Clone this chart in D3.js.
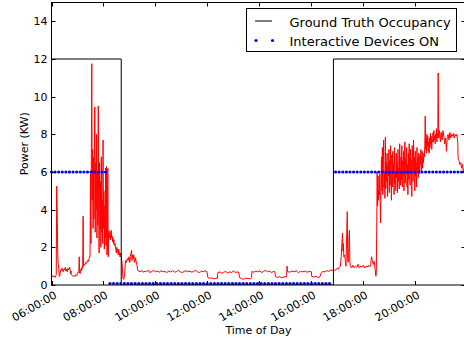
<!DOCTYPE html>
<html>
<head>
<meta charset="utf-8">
<script src="https://d3js.org/d3.v7.min.js"></script>
<style>
  body { margin: 0; background: #fff; }
  text { font-family: "DejaVu Sans", sans-serif; fill: #000; }
  .power { fill: none; stroke: #ff0000; stroke-width: 1; stroke-linejoin: round; }
  .truth { fill: none; stroke: #000; stroke-width: 1; }
  .devices { fill: none; stroke: #0000ff; stroke-width: 3.2; stroke-linecap: round; stroke-dasharray: 0,3.6; }
</style>
</head>
<body>
<div id="chart"></div>
<script>
// measured power, [time, kW]
var power = [
  ["06:00",0.45],["06:02",0.5],["06:04",0.42],["06:06",0.48],["06:08",0.4],["06:10",0.5],["06:11",0.55],
  ["06:12",5.25],["06:13",4.1],["06:14",2.2],["06:15",1.2],["06:16",1.1],["06:17",0.8],["06:18",0.5],["06:19",0.45],
  ["06:20",0.6],["06:21",0.8],["06:23",0.75],["06:24",0.9],["06:26",0.8],["06:27",0.7],["06:29",0.85],["06:30",0.8],
  ["06:32",0.95],["06:33",0.75],["06:35",0.85],["06:36",0.7],["06:38",0.9],["06:39",0.8],["06:41",0.85],["06:42",0.95],
  ["06:44",0.6],["06:45",0.75],["06:46",0.55],["06:48",0.5],["06:50",0.45],["06:52",0.5],["06:54",0.45],["06:56",0.55],
  ["06:58",0.5],["07:00",0.6],["07:02",0.7],["07:03",0.65],["07:04",1.5],["07:05",0.7],["07:06",0.6],["07:07",0.8],
  ["07:08",0.75],["07:09",0.9],["07:10",0.8],["07:11",1.0],["07:12",0.9],["07:13",3.65],["07:14",1.0],["07:15",1.1],
  ["07:17",1.05],["07:19",1.2],["07:21",1.15],["07:23",1.3],["07:25",1.25],["07:27",1.4],["07:28",1.5],
  ["07:29",1.5],["07:30",5.9],["07:31",2.2],["07:32",7.0],["07:33",11.75],["07:34",4.5],["07:35",7.2],["07:36",3.0],
  ["07:37",6.8],["07:38",3.5],["07:39",7.0],["07:40",9.45],["07:41",2.8],["07:42",6.5],["07:43",4.0],["07:44",8.0],
  ["07:45",2.5],["07:46",6.0],["07:47",3.2],["07:48",9.5],["07:49",4.0],["07:50",1.7],["07:51",6.5],["07:52",3.0],
  ["07:53",5.5],["07:54",2.0],["07:55",6.8],["07:56",2.8],["07:57",4.5],["07:58",2.2],["07:59",7.7],["08:00",3.0],
  ["08:01",5.0],["08:02",1.9],["08:03",4.2],["08:04",2.5],["08:05",6.2],["08:06",2.1],["08:07",6.3],["08:08",1.6],
  ["08:09",2.0],["08:10",6.2],["08:11",1.5],["08:12",2.7],["08:13",2.9],["08:14",2.5],["08:15",2.8],["08:16",2.4],
  ["08:17",2.7],["08:18",2.9],["08:19",2.5],["08:20",2.6],["08:21",2.3],["08:22",2.5],["08:23",2.2],["08:24",2.4],
  ["08:25",2.1],["08:27",2.2],["08:28",1.9],["08:30",1.7],["08:31",2.0],["08:33",1.8],["08:34",1.6],["08:35",1.9],
  ["08:37",1.7],["08:38",1.5],["08:39",1.7],["08:41",1.5],["08:43",1.2],["08:45",0.35],["08:47",0.3],["08:49",0.6],
  ["08:51",1.3],["08:53",1.2],["08:55",1.4],["08:57",1.3],["08:59",1.5],["09:01",1.2],["09:02",1.5],["09:05",1.85],
  ["09:06",1.3],["09:07",1.6],["09:09",1.4],["09:10",1.6],["09:12",1.2],["09:14",1.45],["09:15",1.3],["09:17",1.1],
  ["09:19",0.8],["09:20",0.75],["09:25",0.7],["09:28",0.78],["09:32",0.68],["09:36",0.74],["09:40",0.7],["09:44",0.8],
  ["09:47",0.66],["09:52",0.72],["09:56",0.78],["10:00",0.7],["10:05",0.74],["10:09",0.68],["10:13",0.76],["10:18",0.7],
  ["10:22",0.72],["10:26",0.66],["10:31",0.74],["10:35",0.7],["10:40",0.76],["10:44",0.68],["10:49",0.72],["10:53",0.78],
  ["10:57",0.7],["11:02",0.66],["11:06",0.72],["11:10",0.76],["11:15",0.7],["11:19",0.74],["11:24",0.68],["11:28",0.72],
  ["11:33",0.78],["11:37",0.7],["11:42",0.66],["11:46",0.74],["11:50",0.7],["11:55",0.76],["11:59",0.7],
  ["12:01",0.4],["12:05",0.35],["12:10",0.38],["12:15",0.33],["12:20",0.36],["12:23",0.35],
  ["12:24",0.65],["12:29",0.7],["12:33",0.62],["12:38",0.68],["12:42",0.72],["12:47",0.64],["12:51",0.7],["12:56",0.66],
  ["13:00",0.75],["13:05",0.66],["13:10",0.7],["13:13",0.64],["13:14",0.4],["13:18",0.35],["13:23",0.3],["13:28",0.36],
  ["13:34",0.35],["13:40",0.33],["13:42",0.4],["13:43",0.72],["13:47",0.68],["13:52",0.74],["13:56",0.7],["14:01",0.76],
  ["14:05",0.66],["14:10",0.72],["14:14",0.78],["14:19",0.7],["14:23",0.74],["14:28",0.66],["14:32",0.72],["14:36",0.7],
  ["14:37",0.45],["14:42",0.4],["14:47",0.45],["14:52",0.38],["14:57",0.44],["15:02",0.42],["15:03",0.5],["15:04",1.0],
  ["15:05",0.72],["15:10",0.68],["15:15",0.74],["15:20",0.7],["15:25",0.76],["15:30",0.66],["15:35",0.72],["15:40",0.7],
  ["15:45",0.74],["15:50",0.68],["15:55",0.72],["16:00",0.7],["16:01",0.45],["16:06",0.42],["16:11",0.46],["16:16",0.4],
  ["16:20",0.44],["16:22",0.6],["16:26",0.72],["16:31",0.7],["16:36",0.76],["16:40",0.72],["16:45",0.8],["16:50",0.75],
  ["16:53",0.8],["16:56",0.78],["16:59",0.88],["17:02",0.85],["17:05",0.95],["17:07",1.0],["17:09",1.5],["17:11",2.4],
  ["17:12",2.75],["17:13",1.8],["17:14",2.2],["17:15",1.5],["17:17",1.6],["17:19",1.2],["17:20",1.0],["17:22",3.0],
  ["17:23",3.9],["17:24",1.3],["17:25",1.2],["17:26",1.4],["17:27",2.5],["17:28",2.9],["17:29",1.2],["17:30",1.0],
  ["17:33",0.9],["17:36",1.05],["17:39",0.92],["17:42",1.0],["17:45",0.95],["17:48",1.1],["17:51",0.9],["17:54",1.0],
  ["17:57",0.95],["18:00",1.05],["18:03",0.9],["18:06",1.0],["18:09",0.95],["18:12",1.05],["18:14",0.95],["18:17",1.05],
  ["18:19",1.5],["18:21",1.3],["18:23",1.1],["18:25",1.25],["18:27",0.9],["18:29",0.47],["18:30",0.6],["18:31",3.0],
  ["18:32",6.0],["18:33",4.2],["18:34",5.8],["18:35",4.5],["18:36",5.0],["18:37",4.8],["18:38",5.9],["18:39",4.2],
  ["18:40",3.3],["18:41",5.5],["18:42",6.8],["18:43",5.0],["18:44",7.3],["18:45",4.8],["18:46",6.2],["18:47",7.7],
  ["18:48",5.2],["18:49",6.0],["18:50",4.6],["18:51",7.85],["18:52",5.1],["18:53",6.5],["18:54",5.5],["18:55",7.0],
  ["18:56",4.7],["18:57",6.3],["18:58",5.8],["18:59",7.2],["19:00",4.9],["19:01",6.6],["19:02",5.3],["19:03",7.4],
  ["19:04",5.6],["19:05",4.5],["19:06",6.9],["19:07",5.2],["19:08",7.1],["19:09",5.9],["19:10",6.4],["19:11",4.8],
  ["19:12",7.3],["19:13",5.4],["19:14",6.0],["19:15",5.0],["19:16",7.0],["19:17",5.7],["19:18",6.5],["19:19",4.9],
  ["19:20",7.2],["19:21",5.5],["19:22",6.2],["19:23",5.1],["19:24",7.5],["19:25",6.0],["19:26",5.3],["19:27",6.8],
  ["19:28",5.6],["19:29",7.4],["19:30",5.2],["19:31",6.6],["19:32",5.8],["19:33",7.1],["19:34",5.0],["19:35",6.3],
  ["19:36",7.6],["19:37",5.4],["19:38",6.7],["19:39",5.9],["19:40",7.3],["19:41",5.2],["19:42",6.4],["19:43",4.8],
  ["19:44",7.0],["19:45",5.6],["19:46",7.5],["19:47",6.1],["19:48",5.3],["19:49",7.2],["19:50",5.9],["19:51",6.6],
  ["19:52",4.7],["19:53",7.4],["19:54",6.2],["19:55",5.5],["19:56",7.7],["19:57",6.0],["19:58",6.8],["19:59",5.0],
  ["20:00",7.1],["20:01",5.8],["20:02",6.5],["20:03",5.2],["20:04",7.3],["20:05",6.1],["20:06",6.8],["20:07",5.7],
  ["20:08",7.0],["20:09",6.3],["20:10",5.9],["20:11",6.9],["20:12",6.4],["20:13",7.2],["20:14",6.0],["20:15",6.6],
  ["20:16",7.1],["20:17",6.2],["20:18",6.8],["20:19",6.5],["20:20",7.0],["20:21",6.8],["20:22",7.4],["20:23",8.97],
  ["20:24",7.2],["20:25",7.8],["20:26",7.0],["20:27",8.0],["20:28",7.4],["20:29",7.9],["20:30",7.1],["20:31",7.6],
  ["20:32",7.0],["20:33",7.8],["20:34",7.3],["20:35",8.05],["20:36",7.5],["20:37",7.9],["20:38",7.2],["20:39",7.7],
  ["20:40",7.6],["20:41",8.1],["20:42",7.6],["20:43",8.2],["20:44",7.7],["20:45",7.9],["20:46",7.5],["20:47",8.0],
  ["20:48",7.8],["20:49",8.3],["20:50",7.6],["20:51",8.0],["20:52",7.9],["20:53",11.26],["20:54",7.8],["20:56",8.2],
  ["20:58",7.6],["21:00",8.1],["21:02",7.7],["21:04",8.2],["21:06",7.9],["21:08",7.5],["21:10",7.8],["21:12",7.1],
  ["21:14",7.9],["21:16",8.0],["21:18",7.7],["21:20",8.1],["21:22",7.8],["21:24",8.0],["21:26",7.9],["21:28",8.05],
  ["21:30",7.8],["21:32",8.0],["21:34",7.9],["21:36",8.0],["21:38",7.6],["21:39",6.7],["21:41",6.6],["21:43",6.4],
  ["21:45",6.5],["21:47",6.2],["21:49",6.4],["21:51",6.0],["21:53",6.2]
];

// ground truth occupancy (step changes)
var truthTimes = ["06:00", "08:41", "16:51", "21:56"];
var truthValues = [12, 0, 12, 12];

// interactive devices ON, runs of samples
var devicesRuns = [
  { from: "06:00", to: "08:11", value: 6 },
  { from: "08:15", to: "16:50", value: 0 },
  { from: "16:56", to: "21:56", value: 6 }
];

var yTicks = [0, 2, 4, 6, 8, 10, 12, 14];
var xTickTimes = ["06:00", "08:00", "10:00", "12:00", "14:00", "16:00", "18:00", "20:00"];
var legendLabels = ["Ground Truth Occupancy", "Interactive Devices ON"];

var parseTime = d3.timeParse("%H:%M");
var fmt = d3.timeFormat("%H:%M:%S");

var W = 464, H = 342;
var pLeft = 51.5, pRight = 465.5, pTop = 2.5, pBottom = 285;

var x = d3.scaleTime()
    .domain([parseTime("06:00"), parseTime("21:56")])
    .range([pLeft, pRight]);
var y = d3.scaleLinear()
    .domain([0, 15])
    .range([pBottom, pTop]);

var svg = d3.select("#chart").append("svg")
    .attr("width", W)
    .attr("height", H);

svg.append("clipPath").attr("id", "clip")
  .append("rect")
    .attr("x", pLeft).attr("y", pTop)
    .attr("width", pRight - pLeft).attr("height", pBottom - pTop);

var line = d3.line()
    .x(function(d) { return x(parseTime(d[0])); })
    .y(function(d) { return y(d[1]); });

svg.append("path")
    .datum(power)
    .attr("class", "power")
    .attr("clip-path", "url(#clip)")
    .attr("d", line);

var truth = truthTimes.map(function(t, i) { return [t, truthValues[i]]; });
svg.append("path")
    .datum(truth)
    .attr("class", "truth")
    .attr("clip-path", "url(#clip)")
    .attr("d", line.curve(d3.curveStepAfter));

svg.selectAll(".devices")
    .data(devicesRuns)
    .enter().append("line")
    .attr("class", "devices")
    .attr("x1", function(d) { return x(parseTime(d.from)); })
    .attr("x2", function(d) { return x(parseTime(d.to)); })
    .attr("y1", function(d) { return y(d.value) - (d.value === 0 ? 1.5 : 0); })
    .attr("y2", function(d) { return y(d.value) - (d.value === 0 ? 1.5 : 0); });

// frame
svg.append("rect")
    .attr("x", pLeft).attr("y", pTop)
    .attr("width", pRight - pLeft).attr("height", pBottom - pTop)
    .attr("fill", "none").attr("stroke", "#000").attr("stroke-width", 1);

// ticks pointing inward on all four sides
var tk = 4;
var gy = svg.append("g").attr("class", "y axis");
yTicks.forEach(function(v) {
  var yy = Math.round(y(v)) + 0.5;
  gy.append("line").attr("x1", pLeft).attr("x2", pLeft + tk).attr("y1", yy).attr("y2", yy).attr("stroke", "#000");
  gy.append("line").attr("x1", pRight - tk).attr("x2", pRight).attr("y1", yy).attr("y2", yy).attr("stroke", "#000");
  gy.append("text")
      .attr("x", pLeft - 4)
      .attr("y", y(v))
      .attr("dy", "0.36em")
      .attr("text-anchor", "end")
      .attr("font-size", 11)
      .text(v);
});

var gx = svg.append("g").attr("class", "x axis");
xTickTimes.forEach(function(t) {
  var xx = Math.round(x(parseTime(t))) + 0.5;
  gx.append("line").attr("x1", xx).attr("x2", xx).attr("y1", pBottom).attr("y2", pBottom - tk).attr("stroke", "#000");
  gx.append("line").attr("x1", xx).attr("x2", xx).attr("y1", pTop).attr("y2", pTop + tk).attr("stroke", "#000");
  gx.append("text")
      .attr("transform", "translate(" + (xx + 1) + "," + (pBottom + 5) + ") rotate(-30)")
      .attr("dy", "0.75em")
      .attr("text-anchor", "end")
      .attr("font-size", 11)
      .text(fmt(parseTime(t)));
});

svg.append("text")
    .attr("x", (pLeft + pRight) / 2)
    .attr("y", 334)
    .attr("text-anchor", "middle")
    .attr("font-size", 11)
    .text("Time of Day");

svg.append("text")
    .attr("transform", "translate(28," + ((pTop + pBottom) / 2) + ") rotate(-90)")
    .attr("text-anchor", "middle")
    .attr("font-size", 11)
    .text("Power (KW)");

// legend
var lg = svg.append("g").attr("transform", "translate(246.5,8.5)");
lg.append("rect")
    .attr("width", 210).attr("height", 43)
    .attr("fill", "#fff").attr("stroke", "#000");
lg.append("line")
    .attr("x1", 8.5).attr("x2", 25.5).attr("y1", 12.5).attr("y2", 12.5)
    .attr("stroke", "#000");
lg.selectAll(".ldot")
    .data([9.5, 26])
    .enter().append("circle")
    .attr("class", "ldot")
    .attr("cx", function(d) { return d; })
    .attr("cy", 32)
    .attr("r", 1.6)
    .attr("fill", "#0000ff");
lg.selectAll(".ltext")
    .data(legendLabels)
    .enter().append("text")
    .attr("class", "ltext")
    .attr("x", 43)
    .attr("y", function(d, i) { return 18 + i * 19.5; })
    .attr("font-size", 13)
    .text(function(d) { return d; });
</script>
</body>
</html>
